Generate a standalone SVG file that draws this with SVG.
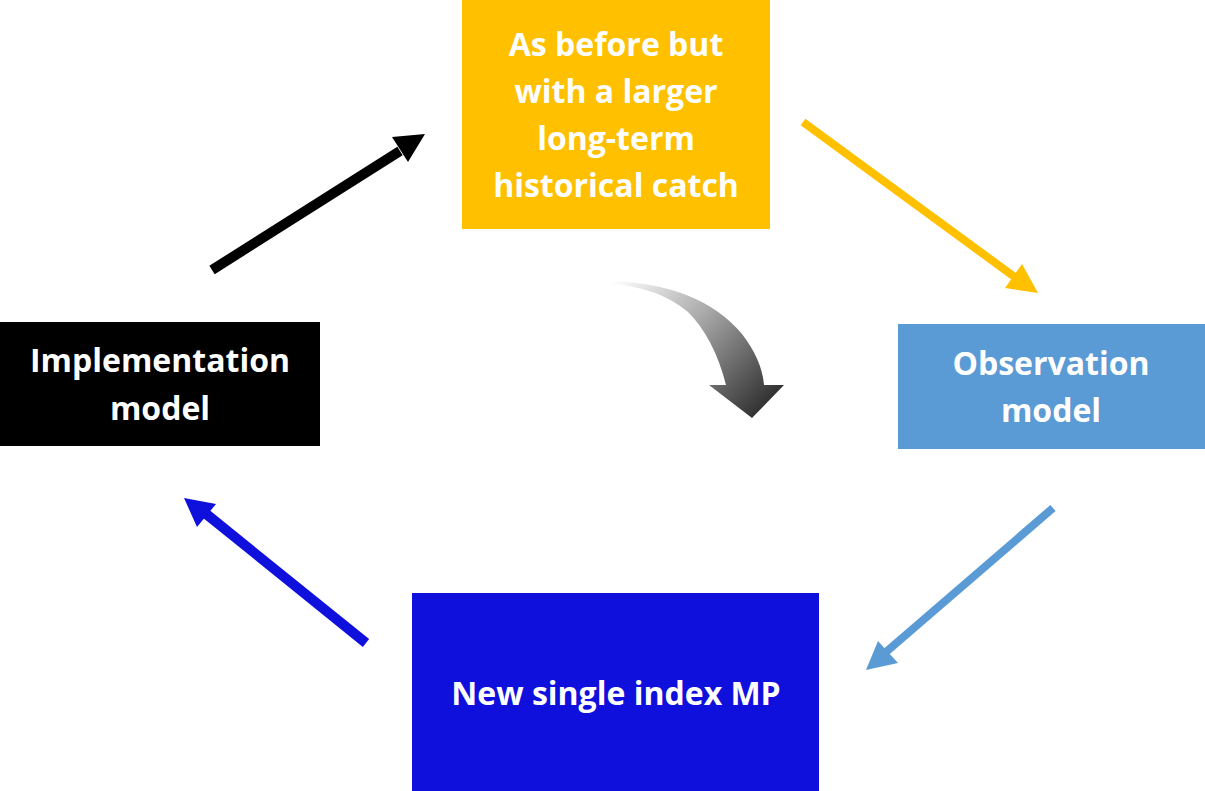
<svg xmlns="http://www.w3.org/2000/svg" width="1205" height="791" viewBox="0 0 1205 791">
<defs>
<style>
.lbl{font-family:"Open Sans","Liberation Sans",sans-serif;font-weight:bold;font-size:32px;fill:#fff;text-anchor:middle}
</style>
<linearGradient id="g" x1="610" y1="283" x2="752" y2="418" gradientUnits="userSpaceOnUse">
<stop offset="0" stop-color="#fff"/>
<stop offset="0.45" stop-color="#aaa"/>
<stop offset="1" stop-color="#333"/>
</linearGradient>
</defs>
<rect width="1205" height="791" fill="#fff"/>
<g id="top">
<rect x="462" y="0" width="308" height="229" fill="#FFC000"/>
<text class="lbl" x="616" y="56">As before but</text>
<text class="lbl" x="616" y="103">with a larger</text>
<text class="lbl" x="616" y="150">long-term</text>
<text class="lbl" x="616" y="197">historical catch</text>
</g>
<g id="impl">
<rect x="0" y="322" width="320" height="124" fill="#000"/>
<text class="lbl" x="160" y="372">Implementation</text>
<text class="lbl" x="160" y="420">model</text>
</g>
<g id="obs">
<rect x="898" y="324" width="307" height="125" fill="#5B9BD5"/>
<text class="lbl" x="1051" y="375">Observation</text>
<text class="lbl" x="1051" y="422">model</text>
</g>
<g id="mp">
<rect x="412" y="593" width="407" height="198" fill="#1010DD"/>
<text class="lbl" x="616" y="705">New single index MP</text>
</g>
<g id="connectors">
<line x1="212" y1="270" x2="400" y2="151" stroke="#000" stroke-width="10"/>
<polygon points="425,134 392,137 408,162" fill="#000"/>
<line x1="803" y1="122" x2="1016" y2="278" stroke="#FFC000" stroke-width="8"/>
<polygon points="1038,293 1022,264 1005,288" fill="#FFC000"/>
<line x1="1053" y1="508" x2="886" y2="652" stroke="#5B9BD5" stroke-width="8"/>
<polygon points="866,670 878,641 898,663" fill="#5B9BD5"/>
<line x1="366" y1="643" x2="205" y2="513" stroke="#1010DD" stroke-width="10"/>
<polygon points="184,498 216,504 197,527" fill="#1010DD"/>
<path d="M611,281 Q700,284 742,334 Q762,360 764,385 L784,385 L752,418 L709,385 L726,385 Q714,338 688,312 Q658,287 611,284 Z" fill="url(#g)"/>
</g>
</svg>
